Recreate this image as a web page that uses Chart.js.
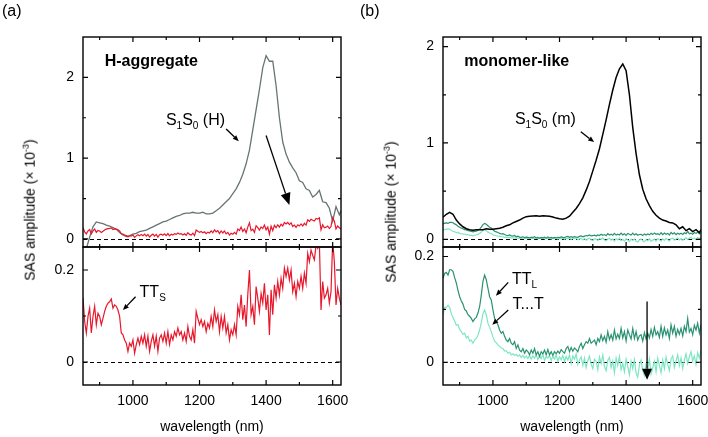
<!DOCTYPE html>
<html>
<head>
<meta charset="utf-8">
<script src="https://cdn.jsdelivr.net/npm/chart.js@4"></script>
<style>
  body { margin: 0; background: #fff; }
  #wrap { position: relative; width: 708px; height: 437px; font-family: "Liberation Sans", Arial, sans-serif; color: #000; }
  #wrap canvas { position: absolute; left: 0; top: 0; }
  .tag { position: absolute; font-size: 16px; line-height: 16px; }
  .ytitle { position: absolute; font-size: 14px; white-space: nowrap; transform: translate(-50%, -50%) rotate(-90deg); }
  .ytitle sup { font-size: 9px; }
</style>
</head>
<body>
<div id="wrap">
  <canvas id="aTop" width="708" height="437"></canvas>
  <canvas id="aBot" width="708" height="437"></canvas>
  <canvas id="bTop" width="708" height="437"></canvas>
  <canvas id="bBot" width="708" height="437"></canvas>
  <div class="tag" style="left:2px; top:3px;">(a)</div>
  <div class="tag" style="left:360px; top:3px;">(b)</div>
  <div class="ytitle" style="left:29px; top:210px;">SAS amplitude (× 10<sup>-3</sup>)</div>
  <div class="ytitle" style="left:390px; top:212px;">SAS amplitude (× 10<sup>-3</sup>)</div>
</div>
<script>
// wavelength grids (nm)
const wl10 = [850, 860, 870, 880, 890, 900, 910, 920, 930, 940, 950, 960, 970, 980, 990,
  1000, 1010, 1020, 1030, 1040, 1050, 1060, 1070, 1080, 1090, 1100, 1110, 1120, 1130, 1140,
  1150, 1160, 1170, 1180, 1190, 1200, 1210, 1220, 1230, 1240, 1250, 1260, 1270, 1280, 1290,
  1300, 1310, 1320, 1330, 1340, 1350, 1360, 1370, 1380, 1390, 1400, 1410, 1420, 1430, 1440,
  1450, 1460, 1470, 1480, 1490, 1500, 1510, 1520, 1530, 1540, 1550, 1560, 1570, 1580, 1590,
  1600, 1610, 1620, 1625];

const wl5 = [850, 855, 860, 865, 870, 875, 880, 885, 890, 895, 900, 905, 910, 915, 920, 925,
  930, 935, 940, 945, 950, 955, 960, 965, 970, 975, 980, 985, 990, 995, 1000, 1005, 1010, 1015,
  1020, 1025, 1030, 1035, 1040, 1045, 1050, 1055, 1060, 1065, 1070, 1075, 1080, 1085, 1090, 1095,
  1100, 1105, 1110, 1115, 1120, 1125, 1130, 1135, 1140, 1145, 1150, 1155, 1160, 1165, 1170, 1175,
  1180, 1185, 1190, 1195, 1200, 1205, 1210, 1215, 1220, 1225, 1230, 1235, 1240, 1245, 1250, 1255,
  1260, 1265, 1270, 1275, 1280, 1285, 1290, 1295, 1300, 1305, 1310, 1315, 1320, 1325, 1330, 1335,
  1340, 1345, 1350, 1355, 1360, 1365, 1370, 1375, 1380, 1385, 1390, 1395, 1400, 1405, 1410, 1415,
  1420, 1425, 1430, 1435, 1440, 1445, 1450, 1455, 1460, 1465, 1470, 1475, 1480, 1485, 1490, 1495,
  1500, 1505, 1510, 1515, 1520, 1525, 1530, 1535, 1540, 1545, 1550, 1555, 1560, 1565, 1570, 1575,
  1580, 1585, 1590, 1595, 1600, 1605, 1610, 1615, 1620, 1625];

// S1S0 (H), on wl10
const s1s0H = [-0.2, -0.12, 0.02, 0.15, 0.21, 0.2, 0.19, 0.17, 0.16, 0.14, 0.12, 0.08, 0.05, 0.03, 0.04,
  0.06, 0.07, 0.09, 0.1, 0.11, 0.13, 0.15, 0.17, 0.19, 0.21, 0.22, 0.24, 0.26, 0.28, 0.29,
  0.31, 0.32, 0.32, 0.33, 0.32, 0.32, 0.33, 0.31, 0.31, 0.32, 0.35, 0.38, 0.42, 0.46, 0.5,
  0.56, 0.62, 0.7, 0.8, 0.93, 1.1, 1.35, 1.6, 1.85, 2.12, 2.27, 2.2, 2.2, 1.9, 1.5,
  1.2, 1.05, 0.95, 0.88, 0.82, 0.72, 0.7, 0.62, 0.6, 0.52, 0.55, 0.6, 0.46, 0.45, 0.38,
  0.22, 0.4, 0.3, 0.35];

// S1S0 (m), on wl10
const s1s0m = [0.23, 0.26, 0.28, 0.26, 0.2, 0.16, 0.13, 0.11, 0.1, 0.095, 0.1, 0.1, 0.1, 0.11, 0.105,
  0.104, 0.11, 0.115, 0.125, 0.14, 0.15, 0.17, 0.185, 0.2, 0.22, 0.235, 0.24, 0.243, 0.245, 0.24,
  0.245, 0.243, 0.24, 0.232, 0.22, 0.213, 0.208, 0.22, 0.24, 0.28, 0.32, 0.37, 0.43, 0.51, 0.6,
  0.71, 0.82, 0.94, 1.09, 1.24, 1.4, 1.55, 1.68, 1.77, 1.82, 1.75, 1.5, 1.16, 0.89, 0.67,
  0.52, 0.42, 0.35, 0.29, 0.25, 0.22, 0.2, 0.19, 0.175, 0.17, 0.15, 0.11, 0.13, 0.09, 0.11,
  0.08, 0.1, 0.07, 0.1];

// TTs, on wl5
const ttS = [0.139, 0.088, 0.063, 0.099, 0.117, 0.063, 0.099, 0.121, 0.081, 0.106, 0.099, 0.081, 0.095, 0.110, 0.121, 0.128,
  0.131, 0.137, 0.117, 0.124, 0.121, 0.113, 0.099, 0.063, 0.059, 0.048, 0.041, 0.023, 0.041, 0.034, 0.048, 0.019, 0.038, 0.052,
  0.038, 0.056, 0.041, 0.059, 0.034, 0.056, 0.023, 0.045, 0.059, 0.034, 0.056, 0.023, 0.052, 0.059, 0.045, 0.063,
  0.041, 0.066, 0.038, 0.059, 0.048, 0.066, 0.056, 0.074, 0.059, 0.066, 0.048, 0.063, 0.045, 0.077, 0.056, 0.048,
  0.070, 0.041, 0.110, 0.095, 0.081, 0.092, 0.077, 0.088, 0.066, 0.084, 0.074, 0.099, 0.077, 0.113, 0.088, 0.103,
  0.066, 0.099, 0.074, 0.099, 0.063, 0.081, 0.048, 0.070, 0.059, 0.081, 0.059, 0.121, 0.103, 0.146, 0.092, 0.124,
  0.077, 0.146, 0.200, 0.103, 0.121, 0.081, 0.164, 0.139, 0.110, 0.149, 0.128, 0.171, 0.113, 0.146, 0.059, 0.157,
  0.103, 0.168, 0.139, 0.175, 0.146, 0.182, 0.160, 0.204, 0.186, 0.204, 0.178, 0.200, 0.153, 0.171, 0.142, 0.175,
  0.160, 0.186, 0.160, 0.193, 0.171, 0.236, 0.218, 0.243, 0.232, 0.222, 0.254, 0.247, 0.261, 0.113, 0.175, 0.139,
  0.146, 0.160, 0.128, 0.153, 0.262, 0.218, 0.124, 0.160, 0.139, 0.124];

// TT_L, on wl5
const ttL = [0.159, 0.168, 0.170, 0.165, 0.175, 0.175, 0.172, 0.160, 0.150, 0.136, 0.124, 0.116, 0.110, 0.100, 0.097, 0.090,
  0.087, 0.083, 0.077, 0.082, 0.085, 0.093, 0.105, 0.127, 0.153, 0.165, 0.156, 0.140, 0.124, 0.118, 0.099, 0.083, 0.077, 0.071,
  0.061, 0.055, 0.058, 0.049, 0.042, 0.039, 0.045, 0.036, 0.033, 0.039, 0.026, 0.033, 0.023, 0.020, 0.026, 0.017,
  0.023, 0.020, 0.014, 0.023, 0.017, 0.026, 0.014, 0.020, 0.011, 0.020, 0.016, 0.023, 0.014, 0.024, 0.014, 0.020,
  0.013, 0.020, 0.016, 0.021, 0.017, 0.024, 0.020, 0.017, 0.026, 0.030, 0.020, 0.028, 0.021, 0.027, 0.024, 0.020,
  0.030, 0.036, 0.026, 0.033, 0.039, 0.036, 0.045, 0.036, 0.039, 0.042, 0.033, 0.045, 0.039, 0.052, 0.041, 0.049,
  0.038, 0.058, 0.043, 0.052, 0.042, 0.061, 0.044, 0.053, 0.045, 0.064, 0.046, 0.058, 0.040, 0.061, 0.052, 0.044,
  0.064, 0.045, 0.058, 0.042, 0.050, 0.052, 0.040, 0.056, 0.044, 0.055, 0.046, 0.062, 0.049, 0.066, 0.052, 0.058,
  0.047, 0.068, 0.049, 0.065, 0.052, 0.061, 0.045, 0.071, 0.055, 0.068, 0.049, 0.062, 0.053, 0.064, 0.050, 0.068,
  0.058, 0.083, 0.057, 0.064, 0.052, 0.070, 0.061, 0.074, 0.055, 0.071];

// T...T, on wl5
const tDotT = [0.090, 0.104, 0.104, 0.108, 0.104, 0.092, 0.084, 0.078, 0.070, 0.071, 0.062, 0.058, 0.053, 0.055, 0.046, 0.049,
  0.040, 0.042, 0.036, 0.042, 0.045, 0.051, 0.061, 0.075, 0.092, 0.099, 0.090, 0.074, 0.066, 0.058, 0.048, 0.040, 0.037, 0.033,
  0.030, 0.027, 0.026, 0.021, 0.022, 0.017, 0.019, 0.014, 0.016, 0.013, 0.015, 0.011, 0.014, 0.009, 0.013, 0.008,
  0.012, 0.007, 0.013, 0.006, 0.012, 0.008, 0.014, 0.005, 0.012, 0.007, 0.015, 0.004, 0.011, 0.008, 0.013, 0.003,
  0.012, 0.006, 0.014, 0.002, 0.010, 0.005, 0.013, 0.001, 0.011, 0.004, 0.014,
  -0.002, 0.012, 0.006, 0.016, -0.004, 0.004, 0.010, -0.006, 0.008, -0.010, 0.003, 0.012, -0.004, -0.012, 0.006, 0.002,
  -0.014, 0.010, -0.002, 0.014, -0.008, -0.016, 0.004, 0.009, -0.010, 0.002, -0.020, 0.008, -0.006, 0.011, -0.014, -0.002,
  -0.018, 0.006, -0.008, -0.024, 0.002, -0.012, 0.005, -0.020, -0.028, -0.006, 0.004, -0.016, -0.025, -0.004, -0.014, 0.006,
  -0.022, -0.010, 0.002, -0.018, 0.008, -0.006, -0.020, 0.004, -0.012, 0.010, -0.004, -0.016, 0.006, 0.012, -0.010, 0.002,
  0.014, -0.006, 0.008, -0.012, 0.004, 0.016, -0.002, 0.010, 0.020, 0.002, 0.012, -0.004, 0.018, 0.008, 0.022];

// tick labels
const xTicks = [1000, 1200, 1400, 1600];
const xMinor = [900, 1100, 1300, 1500];
const yTicksTop = [0, 1, 2];
const yMinorTop = [0.5, 1.5];
const yTicksBot = [0, 0.2];
const yMinorBot = [0.1];

const FONT = '"Liberation Sans", Arial, sans-serif';
Chart.defaults.font.family = FONT;
Chart.defaults.color = '#000';

function pts(xs, ys) {
    return xs.map((x, i) => ({x: x, y: ys[i]}));
}

function line(xs, ys, color, w) {
    return {data: pts(xs, ys), borderColor: color, borderWidth: w || 1.2, pointRadius: 0, clip: 0};
}

// parts: [text, isSub, isBold]
function richText(ctx, x, y, parts) {
    let cx = x;
    parts.forEach(p => {
        ctx.font = p[1] ? '10px ' + FONT : (p[2] ? 'bold ' : '') + '16px ' + FONT;
        ctx.fillText(p[0], cx, p[1] ? y + 4 : y);
        cx += ctx.measureText(p[0]).width;
    });
}

function arrow(ctx, x1, y1, x2, y2, len, wid) {
    const ang = Math.atan2(y2 - y1, x2 - x1);
    const bx = x2 - Math.cos(ang) * len, by = y2 - Math.sin(ang) * len;
    ctx.beginPath();
    ctx.moveTo(x1, y1);
    ctx.lineTo(bx, by);
    ctx.stroke();
    ctx.beginPath();
    ctx.moveTo(x2, y2);
    ctx.lineTo(bx + Math.sin(ang) * wid / 2, by - Math.cos(ang) * wid / 2);
    ctx.lineTo(bx - Math.sin(ang) * wid / 2, by + Math.cos(ang) * wid / 2);
    ctx.closePath();
    ctx.fill();
}

const decor = {
    id: 'decor',
    beforeDatasetsDraw(chart) {
        const {ctx, chartArea: a, scales: {y}} = chart;
        const y0 = Math.round(y.getPixelForValue(0)) + 0.5;
        ctx.save();
        ctx.strokeStyle = '#000';
        ctx.lineWidth = 1.2;
        ctx.setLineDash([4, 3]);
        ctx.beginPath();
        ctx.moveTo(a.left, y0);
        ctx.lineTo(a.right, y0);
        ctx.stroke();
        ctx.restore();
    },
    afterDraw(chart, args, opts) {
        const {ctx, chartArea: a, scales: {x, y}} = chart;
        ctx.save();
        ctx.strokeStyle = '#000';
        ctx.fillStyle = '#000';
        ctx.lineWidth = 1.4;
        ctx.strokeRect(a.left, a.top, a.right - a.left, a.bottom - a.top);
        // inward ticks on all four sides
        ctx.lineWidth = 1.2;
        ctx.beginPath();
        const xt = (v, l) => {
            const px = x.getPixelForValue(v);
            ctx.moveTo(px, a.bottom); ctx.lineTo(px, a.bottom - l);
            ctx.moveTo(px, a.top); ctx.lineTo(px, a.top + l);
        };
        const yt = (v, l) => {
            const py = y.getPixelForValue(v);
            ctx.moveTo(a.left, py); ctx.lineTo(a.left + l, py);
            ctx.moveTo(a.right, py); ctx.lineTo(a.right - l, py);
        };
        xTicks.forEach(v => xt(v, 5));
        xMinor.forEach(v => xt(v, 3));
        opts.yTicks.forEach(v => yt(v, 5));
        opts.yMinor.forEach(v => yt(v, 3));
        ctx.stroke();
        // labels and arrows
        ctx.textBaseline = 'alphabetic';
        ctx.textAlign = 'left';
        (opts.notes || []).forEach(n => {
            richText(ctx, x.getPixelForValue(n.x), y.getPixelForValue(n.y), n.parts);
        });
        ctx.lineWidth = 1.3;
        (opts.arrows || []).forEach(r => {
            arrow(ctx, x.getPixelForValue(r[0]), y.getPixelForValue(r[1]),
                x.getPixelForValue(r[2]), y.getPixelForValue(r[3]), r[4], r[5]);
        });
        ctx.restore();
    }
};

function panel(id, pad, yMin, yMax, yTicks, yMinor, bottom, datasets, extra) {
    const xAxis = bottom ? {
        type: 'linear', min: 850, max: 1625,
        afterBuildTicks: s => { s.ticks = xTicks.map(v => ({value: v})); },
        afterFit: s => { s.height = 51; s.paddingLeft = 0; s.paddingRight = 0; },
        grid: {display: false, drawTicks: false},
        border: {display: false},
        ticks: {padding: 8, maxRotation: 0, autoSkip: false, font: {size: 14}, callback: v => String(v)},
        title: {display: true, text: 'wavelength (nm)', padding: 0, font: {size: 14}}
    } : {type: 'linear', min: 850, max: 1625, display: false};
    return new Chart(document.getElementById(id).getContext('2d'), {
        type: 'line',
        data: {datasets: datasets},
        options: {
            responsive: false,
            animation: false,
            events: [],
            layout: {padding: pad},
            plugins: {
                legend: {display: false},
                tooltip: {enabled: false},
                decor: Object.assign({yTicks: yTicks, yMinor: yMinor}, extra)
            },
            scales: {
                x: xAxis,
                y: {
                    min: yMin, max: yMax,
                    afterBuildTicks: s => { s.ticks = yTicks.map(v => ({value: v})); },
                    afterFit: s => { s.width = 40; s.paddingTop = 0; s.paddingBottom = 0; },
                    grid: {display: false, drawTicks: false},
                    border: {display: false},
                    ticks: {padding: 9, font: {size: 14}, callback: v => String(v)}
                }
            }
        },
        plugins: [decor]
    });
}

const RED = '#e8182c', GRAY = '#687474', DKGREEN = '#2a9272', LTGREEN = '#7fe6c2';

panel('aTop', {left: 43, right: 367, top: 37, bottom: 190}, -0.1, 2.5, yTicksTop, yMinorTop, false,
    [line(wl5, ttS, RED), line(wl10, s1s0H, GRAY, 1.3)],
    {
        notes: [
            {x: 915, y: 2.147, parts: [['H-aggregate', false, true]]},
            {x: 1099, y: 1.41, parts: [['S', false], ['1', true], ['S', false], ['0', true], [' (H)', false]]}
        ],
        arrows: [[1280, 1.36, 1318, 1.21, 6, 5], [1400, 1.28, 1470, 0.42, 12, 10]]
    });

panel('aBot', {left: 43, right: 367, top: 247, bottom: 1}, -0.05, 0.25, yTicksBot, yMinorBot, true,
    [line(wl5, ttS, RED)],
    {
        notes: [{x: 1020, y: 0.142, parts: [['TT', false], ['S', true]]}],
        arrows: [[1008, 0.142, 970, 0.113, 6, 5]]
    });

panel('bTop', {left: 403, right: 7, top: 37, bottom: 190}, -0.08, 2.1, yTicksTop, yMinorTop, false,
    [line(wl10, s1s0m, '#000', 1.5), line(wl5, ttL, DKGREEN), line(wl5, tDotT, LTGREEN)],
    {
        notes: [
            {x: 914, y: 1.804, parts: [['monomer-like', false, true]]},
            {x: 1066, y: 1.194, parts: [['S', false], ['1', true], ['S', false], ['0', true], [' (m)', false]]}
        ],
        arrows: [[1264, 1.116, 1304, 1.009, 6, 5]]
    });

panel('bBot', {left: 403, right: 7, top: 247, bottom: 1}, -0.043, 0.218, yTicksBot, yMinorBot, true,
    [line(wl5, ttL, DKGREEN), line(wl5, tDotT, LTGREEN)],
    {
        notes: [
            {x: 1057, y: 0.1475, parts: [['TT', false], ['L', true]]},
            {x: 1059, y: 0.1007, parts: [['T...T', false]]}
        ],
        arrows: [[1046, 0.151, 1009, 0.126, 6, 5], [1046, 0.099, 998, 0.071, 6, 5],
            [1463, 0.115, 1463, -0.033, 11, 10]]
    });
</script>
</body>
</html>
